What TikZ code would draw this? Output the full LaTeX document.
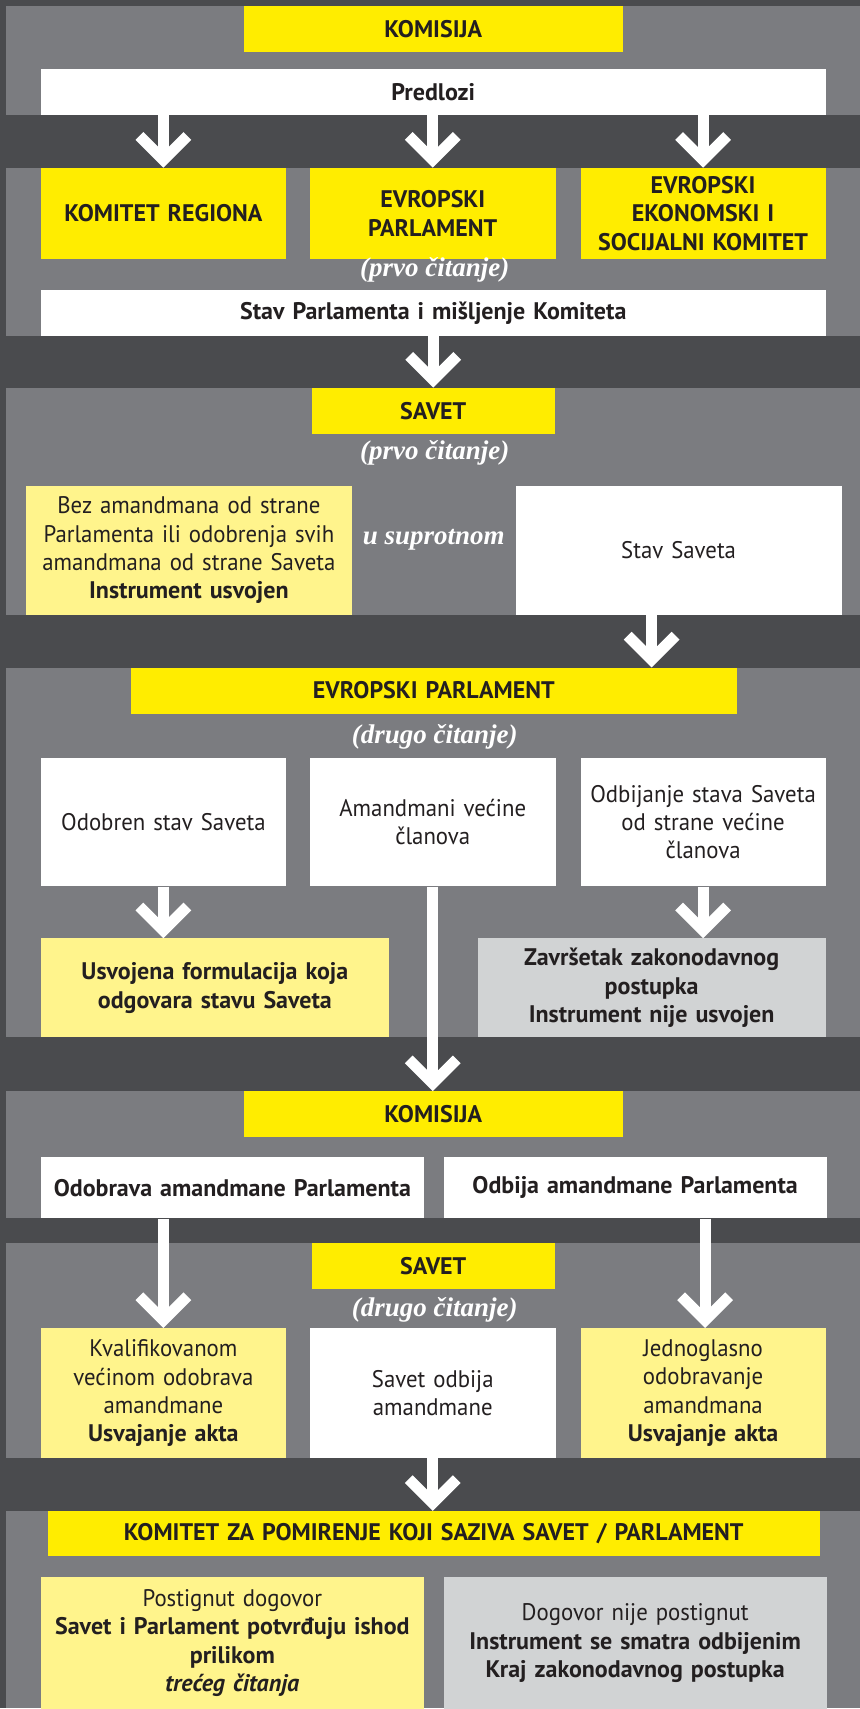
\documentclass[tikz,border=0pt]{standalone}
\usepackage{fontspec}
\setmainfont{PT Sans}[UprightFeatures={FakeStretch=0.95}]
\newfontfamily\readfont{Liberation Serif}
\usetikzlibrary{arrows.meta}

\definecolor{bgdark}{RGB}{74,75,78}
\definecolor{panelgray}{RGB}{123,124,128}
\definecolor{hiyellow}{RGB}{255,237,0}
\definecolor{paleyellow}{RGB}{255,244,140}
\definecolor{palegray}{RGB}{209,211,212}
\definecolor{ink}{RGB}{35,31,32}

\tikzset{
  txt/.style={inner sep=0pt, align=center, text=ink, font=\fontsize{24}{28.3}\selectfont},
  hdr/.style={txt, fill=hiyellow, minimum height=46pt, font=\fontsize{24}{28.3}\selectfont\bfseries},
  whitebox/.style={txt, fill=white},
  yesbox/.style={txt, fill=paleyellow},
  nobox/.style={txt, fill=palegray},
  reading/.style={inner sep=0pt, text=white, font=\readfont\fontsize{27}{30}\selectfont\bfseries\itshape},
  flow/.style={draw=white, line width=11pt, -{Straight Barb[sharp, length=24pt, width=48pt]}}
}

\begin{document}
\begin{tikzpicture}[x=1pt,y=-1pt]
        \fill[bgdark] (0,0) rectangle (860,1709);
        \foreach \t/\b in {6/115,168/336,388/615,668/1038,1092/1219,1244/1459,1512/1709}
            {\fill[panelgray] (6,\t) rectangle (860,\b);}

        % komisija
        \node[hdr, text width=379pt] (komisija) at (433.5,29) {KOMISIJA};
        \node[whitebox, text width=785pt, minimum height=46pt, font=\fontsize{24}{28.3}\selectfont\bfseries] (predlozi) at (433.5,92) {Predlozi};

        \node[hdr, text width=245pt, minimum height=91pt] (regioni) at (163.5,213.5) {KOMITET REGIONA};
        \node[hdr, text width=246pt, minimum height=91pt] (parlament) at (433,213.5) {EVROPSKI\\PARLAMENT};
        \node[hdr, text width=245pt, minimum height=91pt] (esk) at (703.5,213.5) {EVROPSKI\\EKONOMSKI I\\SOCIJALNI KOMITET};
        \node[reading] (citanje1) at (435,270) {(prvo čitanje)};
        \node[whitebox, text width=785pt, minimum height=46pt, font=\fontsize{24}{28.3}\selectfont\bfseries] (stavparl) at (433.5,313) {Stav Parlamenta i mišljenje Komiteta};

        % savet, prvo citanje
        \node[hdr, text width=243pt] (savet) at (433.5,411) {SAVET};
        \node[reading] (citanje2) at (435,453) {(prvo čitanje)};
        \node[yesbox, text width=326pt, minimum height=129pt] (bez) at (189,550.5)
            {Bez amandmana od strane\\Parlamenta ili odobrenja svih\\amandmana od strane Saveta\\\textbf{Instrument usvojen}};
        \node[reading] (inace) at (434,540) {u suprotnom};
        \node[whitebox, text width=326pt, minimum height=129pt] (stavsaveta) at (679,550.5) {Stav Saveta};

        % parlament, drugo citanje
        \node[hdr, text width=606pt] (parlament2) at (434,691) {EVROPSKI PARLAMENT};
        \node[reading] (citanje3) at (435,737) {(drugo čitanje)};
        \node[whitebox, text width=245pt, minimum height=129pt] (odobren) at (163.5,822.5) {Odobren stav Saveta};
        \node[whitebox, text width=246pt, minimum height=129pt] (amand) at (433,822.5) {Amandmani većine\\članova};
        \node[whitebox, text width=245pt, minimum height=129pt] (odbijanje) at (703.5,822.5) {Odbijanje stava Saveta\\od strane većine\\članova};
        \node[yesbox, text width=348pt, minimum height=99pt, font=\fontsize{24}{28.3}\selectfont\bfseries] (usvojena) at (215,988.5)
            {Usvojena formulacija koja\\odgovara stavu Saveta};
        \node[nobox, text width=348pt, minimum height=99pt, font=\fontsize{24}{28.3}\selectfont\bfseries] (kraj) at (652,988.5)
            {Završetak zakonodavnog\\postupka\\Instrument nije usvojen};

        % komisija, amandmani
        \node[hdr, text width=379pt] (komisija2) at (433.5,1115) {KOMISIJA};
        \node[whitebox, text width=383pt, minimum height=61pt, font=\fontsize{24}{28.3}\selectfont\bfseries] (odobrava) at (232.5,1188.5) {Odobrava amandmane Parlamenta};
        \node[whitebox, text width=383pt, minimum height=61pt, font=\fontsize{24}{28.3}\selectfont\bfseries] (odbija) at (635.5,1188.5) {Odbija amandmane Parlamenta};

        % savet, drugo citanje
        \node[hdr, text width=243pt] (savet2) at (433.5,1267) {SAVET};
        \node[reading] (citanje4) at (435,1311) {(drugo čitanje)};
        \node[yesbox, text width=245pt, minimum height=130pt] (kval) at (163.5,1394) {Kvalifikovanom\\većinom odobrava\\amandmane\\\textbf{Usvajanje akta}};
        \node[whitebox, text width=246pt, minimum height=130pt] (savetodbija) at (433,1394) {Savet odbija\\amandmane};
        \node[yesbox, text width=245pt, minimum height=130pt] (jednoglasno) at (703.5,1394) {Jednoglasno\\odobravanje\\amandmana\\\textbf{Usvajanje akta}};

        % pomirenje
        \node[hdr, text width=772pt, minimum height=45pt] (komitet) at (434,1534.5) {KOMITET ZA POMIRENJE KOJI SAZIVA SAVET / PARLAMENT};
        \node[yesbox, text width=383pt, minimum height=132pt] (dogovor) at (232.5,1644)
            {Postignut dogovor\\\textbf{Savet i Parlament potvrđuju ishod}\\\textbf{prilikom}\\\textbf{\textit{trećeg čitanja}}};
        \node[nobox, text width=383pt, minimum height=132pt] (nema) at (635.5,1644)
            {Dogovor nije postignut\\\textbf{Instrument se smatra odbijenim}\\\textbf{Kraj zakonodavnog postupka}};

        % strelice
        \draw[flow] (predlozi.south -| regioni.north) -- (regioni.north);
        \draw[flow] (predlozi.south -| parlament.north) -- (parlament.north);
        \draw[flow] (predlozi.south -| esk.north) -- (esk.north);
        \draw[flow] (stavparl.south -| savet.north) -- (savet.north);
        \draw[flow] ([xshift=-27pt]stavsaveta.south) -- ([xshift=-27pt]stavsaveta.south |- parlament2.north);
        \draw[flow] (odobren.south) -- (odobren.south |- usvojena.north);
        \draw[flow] (odbijanje.south) -- (odbijanje.south |- kraj.north);
        \draw[flow] (amand.south) -- (amand.south |- komisija2.north);
        \draw[flow] (kval.north |- odobrava.south) -- (kval.north);
        \draw[flow] ([xshift=2pt]jednoglasno.north |- odbija.south) -- ([xshift=2pt]jednoglasno.north);
        \draw[flow] (savetodbija.south) -- (savetodbija.south |- komitet.north);
\end{tikzpicture}
\end{document}
